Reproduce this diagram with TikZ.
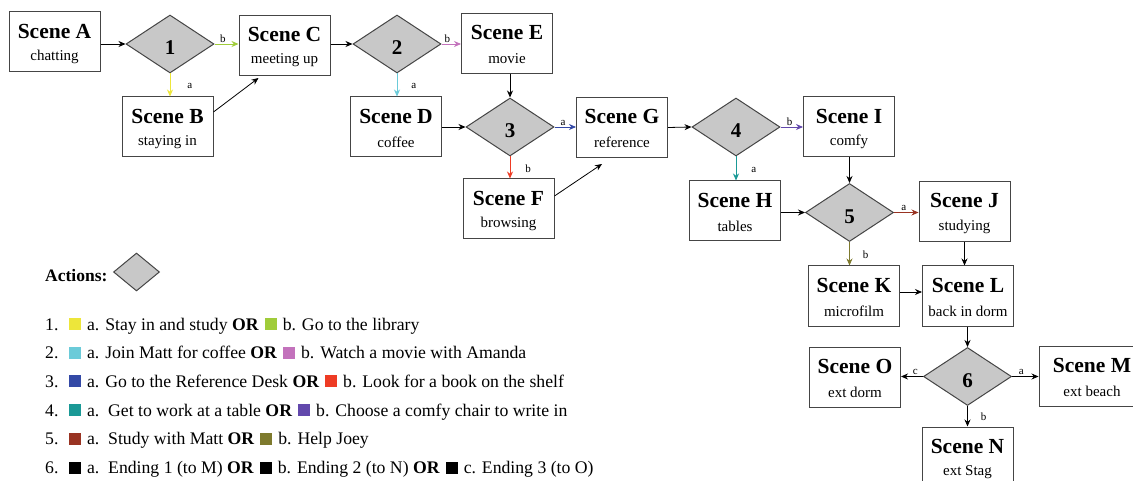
\documentclass[tikz,border=0pt]{standalone}
\usepackage{fontspec}
\setmainfont{Liberation Serif}
\usetikzlibrary{shapes.geometric,arrows.meta,calc}
\definecolor{cya}{HTML}{EDE63A}
\definecolor{cgr}{HTML}{A0CC3A}
\definecolor{ccy}{HTML}{6BCBD9}
\definecolor{cpk}{HTML}{C372BC}
\definecolor{cbl}{HTML}{3349A6}
\definecolor{crd}{HTML}{EE3B24}
\definecolor{ctl}{HTML}{1A9996}
\definecolor{cpu}{HTML}{6248AC}
\definecolor{cbr}{HTML}{993322}
\definecolor{col}{HTML}{7E7A2E}
\definecolor{edgegray}{HTML}{454545}
\definecolor{dfill}{HTML}{C8C8C8}
\newcommand\legsq[1]{\textcolor{#1}{\rule{12pt}{12pt}}}
\begin{document}
\begin{tikzpicture}[x=1pt,y=-1pt,
  scenebox/.style={draw=edgegray, line width=1pt, fill=white, minimum width=91pt, minimum height=60pt, inner sep=0pt,
    font=\fontsize{21.5}{22}\selectfont\bfseries, text height=0pt, text depth=7pt},
  subtxt/.style={font=\fontsize{15}{17}\selectfont, anchor=base, yshift=-15pt, inner sep=0pt},
  choice/.style={shape=diamond, draw=edgegray, line width=1pt, fill=dfill, minimum width=88pt, minimum height=58pt,
    inner sep=0pt, font=\fontsize{21}{22}\selectfont\bfseries, text height=22pt, text depth=0pt},
  arr/.style={-{Stealth[length=7pt,width=6pt]}, line width=0.8pt},
  lab/.style={font=\fontsize{11}{12}\selectfont, inner sep=1pt},
  legline/.style={anchor=base west, inner sep=0pt, font=\fontsize{17.7}{20}\selectfont}
]
\useasboundingbox (0,0) rectangle (1133,481);
\clip (0,0) rectangle (1133,481);

% scenes
\node[scenebox, label={[subtxt,name=As]center:chatting}] (A) at (54.5,42) {Scene A};
\node[scenebox, label={[subtxt,name=Bs]center:staying in}] (B) at (167.5,127) {Scene B};
\node[scenebox, label={[subtxt,name=Cs]center:meeting up}] (C) at (284.5,45.5) {Scene C};
\node[scenebox, label={[subtxt,name=Ds]center:coffee}] (D) at (396,127) {Scene D};
\node[scenebox, label={[subtxt,name=Es]center:movie}] (E) at (507,43.5) {Scene E};
\node[scenebox, label={[subtxt,name=Fs]center:browsing}] (F) at (508.5,209) {Scene F};
\node[scenebox, label={[subtxt,name=Gs]center:reference}] (G) at (622,127.5) {Scene G};
\node[scenebox, label={[subtxt,name=Hs]center:tables}] (H) at (735,211) {Scene H};
\node[scenebox, label={[subtxt,name=Is]center:comfy}] (I) at (849,127) {Scene I};
\node[scenebox, label={[subtxt,name=Js]center:studying}] (J) at (964.5,211.5) {Scene J};
\node[scenebox, label={[subtxt,name=Ks]center:microfilm}] (K) at (854,296) {Scene K};
\node[scenebox, label={[subtxt,name=Ls]center:back in dorm}] (L) at (968,296) {Scene L};
\node[scenebox, label={[subtxt,name=Os]center:ext dorm}] (O) at (855,377) {Scene O};
\node[scenebox, minimum width=106pt, label={[subtxt,name=Ms]center:ext beach}] (M) at (1092,376) {Scene M};
\node[scenebox, label={[subtxt,name=Ns]center:ext Stag}] (N) at (967.5,457) {Scene N};

% choices
\node[choice] (d1) at (170,44) {1};
\node[choice] (d2) at (397,44) {2};
\node[choice] (d3) at (510,127) {3};
\node[choice] (d4) at (736,127) {4};
\node[choice] (d5) at (849.5,212.5) {5};
\node[choice] (d6) at (967.5,376.5) {6};

% connectors
\draw[arr] (A.east |- d1.west) -- (d1.west);
\draw[arr, cgr] (d1.east) -- node[lab, above, pos=0.35, black] {b} (d1.east -| C.west);
\draw[arr, cya] (d1.south) -- node[lab, right, xshift=16pt, yshift=-1pt, black] {a} (d1.south |- B.north);
\draw[arr] ([yshift=15pt]B.east) -- ([xshift=-26pt,yshift=-2pt]C.south);
\draw[arr] (C.east |- d2.west) -- (d2.west);
\draw[arr, cpk] (d2.east) -- node[lab, above, pos=0.3, black] {b} (d2.east -| E.west);
\draw[arr, ccy] (d2.south) -- node[lab, right, xshift=13pt, yshift=-1pt, black] {a} (d2.south |- D.north);
\draw[arr] (d3.north |- E.south) -- (d3.north);
\draw[arr] (D.east) -- (d3.west);
\draw[arr, cbl] (d3.east) -- node[lab, above, pos=0.4, black] {a} (d3.east -| G.west);
\draw[arr, crd] (d3.south) -- node[lab, right, xshift=14pt, yshift=-1pt, black] {b} (d3.south |- F.north);
\draw[arr] ([yshift=13pt]F.east) -- ([xshift=-20pt,yshift=-6pt]G.south);
\draw[arr] (G.east) -- (d4.west);
\draw[arr, cpu] (d4.east) -- node[lab, above, pos=0.4, black] {b} (d4.east -| I.west);
\draw[arr, ctl] (d4.south) -- node[lab, right, xshift=14pt, yshift=-1pt, black] {a} (d4.south |- H.north);
\draw[arr] (d5.north |- I.south) -- (d5.north);
\draw[arr] (H.east |- d5.west) -- (d5.west);
\draw[arr, cbr] (d5.east) -- node[lab, above, pos=0.4, black] {a} (d5.east -| J.west);
\draw[arr, col] (d5.south) -- node[lab, right, xshift=12pt, yshift=-1pt, black] {b} (d5.south |- K.north);
\draw[arr] (J.south) -- (J.south |- L.north);
\draw[arr] ([yshift=4pt]K.east) -- ([yshift=4pt]L.west);
\draw[arr] (d6.north |- L.south) -- (d6.north);
\draw[arr] (d6.east) -- node[lab, above, pos=0.35] {a} (d6.east -| M.west);
\draw[arr] (d6.west) -- node[lab, above, pos=0.35] {c} (d6.west -| O.east);
\draw[arr] (d6.south) -- node[lab, right, xshift=12pt, yshift=0pt] {b} (N.north);

% legend
\node[anchor=base west, inner sep=0pt, font=\fontsize{17.5}{20}\selectfont\bfseries] (act) at (45,282) {Actions:};
\node[shape=diamond, draw=edgegray, line width=1pt, fill=dfill, minimum width=46pt, minimum height=38pt, inner sep=0pt] (legd) at (136.5,272) {};

\node[legline] (l1) at (45,330) {1.\hspace{10.6pt}\legsq{cya}\hspace{6pt}a. Stay in and study \textbf{OR}\hspace{6pt}\legsq{cgr}\hspace{6pt}b. Go to the library};
\node[legline] (l2) at (45,358.7) {2.\hspace{10.6pt}\legsq{ccy}\hspace{6pt}a. Join Matt for coffee \textbf{OR}\hspace{6pt}\legsq{cpk}\hspace{6pt}b. Watch a movie with Amanda};
\node[legline] (l3) at (45,387.4) {3.\hspace{10.6pt}\legsq{cbl}\hspace{6pt}a. Go to the Reference Desk \textbf{OR}\hspace{6pt}\legsq{crd}\hspace{6pt}b. Look for a book on the shelf};
\node[legline] (l4) at (45,416.1) {4.\hspace{10.6pt}\legsq{ctl}\hspace{6pt}a.\ \ Get to work at a table \textbf{OR}\hspace{6pt}\legsq{cpu}\hspace{6pt}b. Choose a comfy chair to write in};
\node[legline] (l5) at (45,444.8) {5.\hspace{10.6pt}\legsq{cbr}\hspace{6pt}a.\ \ Study with Matt \textbf{OR}\hspace{6pt}\legsq{col}\hspace{6pt}b. Help Joey};
\node[legline] (l6) at (45,473.5) {6.\hspace{10.6pt}\legsq{black}\hspace{6pt}a.\ \ Ending 1 (to M) \textbf{OR}\hspace{6pt}\legsq{black}\hspace{6pt}b. Ending 2 (to N) \textbf{OR}\hspace{6pt}\legsq{black}\hspace{6pt}c. Ending 3 (to O)};
\end{tikzpicture}
\end{document}
